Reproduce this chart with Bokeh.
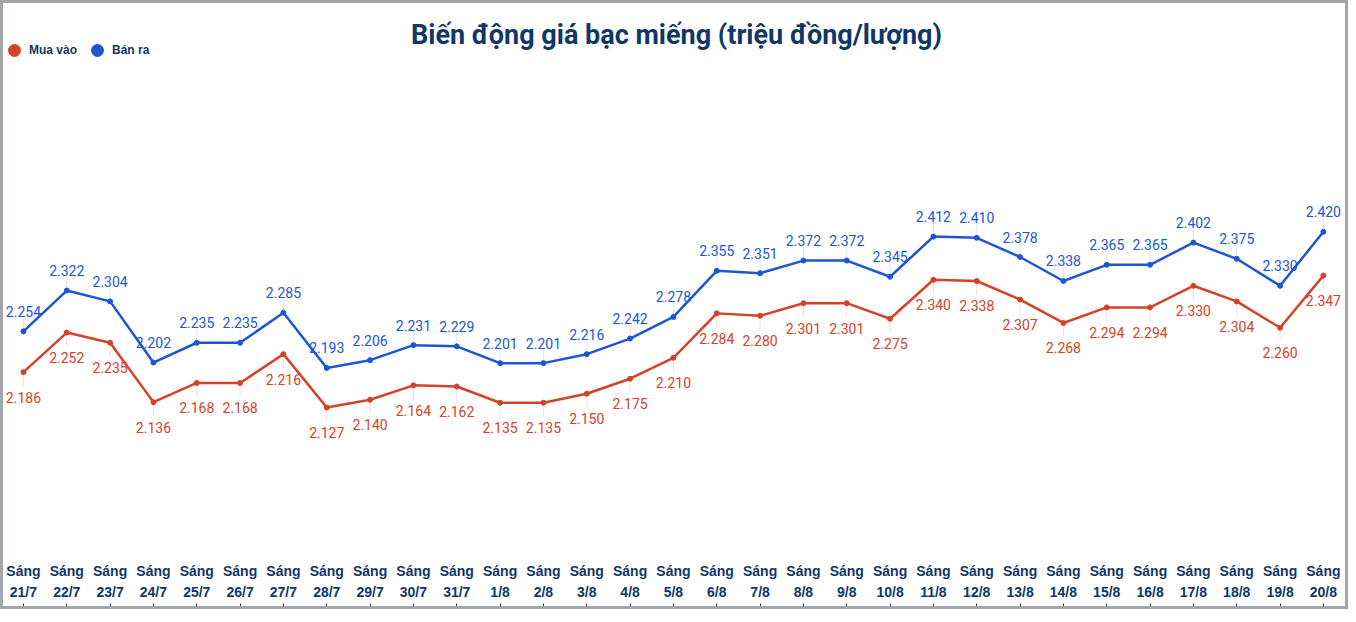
from math import pi

from bokeh.core.properties import value
from bokeh.embed import file_html
from bokeh.models import (ColumnDataSource, FixedTicker, Label, Legend,
                          LegendItem, LinearAxis, Range1d)
from bokeh.plotting import figure
from bokeh.resources import INLINE

# days (morning quotes) and prices, million dong / tael
days = ["21/7", "22/7", "23/7", "24/7", "25/7", "26/7", "27/7", "28/7",
        "29/7", "30/7", "31/7", "1/8", "2/8", "3/8", "4/8", "5/8", "6/8",
        "7/8", "8/8", "9/8", "10/8", "11/8", "12/8", "13/8", "14/8", "15/8",
        "16/8", "17/8", "18/8", "19/8", "20/8"]
buy = [2.186, 2.252, 2.235, 2.136, 2.168, 2.168, 2.216, 2.127, 2.140, 2.164,
       2.162, 2.135, 2.135, 2.150, 2.175, 2.210, 2.284, 2.280, 2.301, 2.301,
       2.275, 2.340, 2.338, 2.307, 2.268, 2.294, 2.294, 2.330, 2.304, 2.260,
       2.347]
sell = [2.254, 2.322, 2.304, 2.202, 2.235, 2.235, 2.285, 2.193, 2.206, 2.231,
        2.229, 2.201, 2.201, 2.216, 2.242, 2.278, 2.355, 2.351, 2.372, 2.372,
        2.345, 2.412, 2.410, 2.378, 2.338, 2.365, 2.365, 2.402, 2.375, 2.330,
        2.420]

NAVY = "#103766"
RED = "#d3432a"
BLUE = "#1b56d3"
LEADER = "#e3e3e3"

xs = list(range(len(days)))
source = ColumnDataSource(dict(
    x=xs, buy=buy, sell=sell,
    buy_lbl=[f"{v:.3f}" for v in buy],
    sell_lbl=[f"{v:.3f}" for v in sell],
))

p = figure(frame_width=1342, frame_height=553,
           x_range=Range1d(-0.46, 30.51), y_range=Range1d(1.8786, 2.8007),
           output_backend="svg", toolbar_location=None, tools="",
           min_border=0, x_axis_location=None, y_axis_location=None,
           outline_line_color=None,
           styles={"border": "3px solid #a3a7ac"})
p.grid.visible = False

# faint leader lines from each point to its label
p.ray("x", "sell", source=source, length=14, length_units="screen",
      angle=pi / 2, color=LEADER, line_width=1)
p.ray("x", "buy", source=source, length=14, length_units="screen",
      angle=-pi / 2, color=LEADER, line_width=1)

p.line("x", "buy", source=source, color=RED, line_width=2.5)
p.line("x", "sell", source=source, color=BLUE, line_width=2.5)
buy_pts = p.scatter("x", "buy", source=source, size=5, color=RED)
sell_pts = p.scatter("x", "sell", source=source, size=5, color=BLUE)

p.text("x", "sell", text="sell_lbl", source=source, y_offset=-20,
       text_align="center", text_baseline="middle", text_color=BLUE,
       text_font=value("Roboto"), text_font_size="14px")
p.text("x", "buy", text="buy_lbl", source=source, y_offset=25,
       text_align="center", text_baseline="middle", text_color=RED,
       text_font=value("Roboto"), text_font_size="14px")

p.add_layout(Label(x=673, y=522, x_units="screen", y_units="screen",
                   text="Biến động giá bạc miếng (triệu đồng/lượng)",
                   text_align="center", text_baseline="middle",
                   text_font="Roboto", text_font_style="bold",
                   text_font_size="27px", text_color=NAVY))

legend = Legend(items=[LegendItem(label="Mua vào", renderers=[buy_pts]),
                       LegendItem(label="Bán ra", renderers=[sell_pts])],
                location=(-4, 491), orientation="horizontal",
                glyph_width=30, glyph_height=30, label_standoff=0,
                spacing=5, padding=0, margin=0, border_line_color=None,
                background_fill_alpha=0, label_text_font="Liberation Sans",
                label_text_font_style="bold", label_text_font_size="12px",
                label_text_color=NAVY)
p.add_layout(legend)

xaxis = LinearAxis(ticker=FixedTicker(ticks=xs),
                   major_label_overrides={i: f"Sáng\n{d}" for i, d in enumerate(days)},
                   axis_line_color=None, major_tick_line_color=None,
                   minor_tick_line_color=None, major_tick_in=0,
                   major_tick_out=0, major_label_standoff=6,
                   major_label_text_font="Liberation Sans",
                   major_label_text_font_style="bold",
                   major_label_text_font_size="14px",
                   major_label_text_color=NAVY,
                   major_label_text_line_height=1.35)
p.add_layout(xaxis, "below")

# small tick marks under the labels, no labels of its own
tick_axis = LinearAxis(ticker=FixedTicker(ticks=xs), axis_line_color=None,
                       major_tick_in=0, major_tick_out=3,
                       major_tick_line_color="#444444",
                       minor_tick_line_color=None, major_label_standoff=0,
                       major_label_text_font_size="1px",
                       major_label_text_color=None)
p.add_layout(tick_axis, "below")

open("out.html", "w", encoding="utf-8").write(file_html(p, INLINE))
